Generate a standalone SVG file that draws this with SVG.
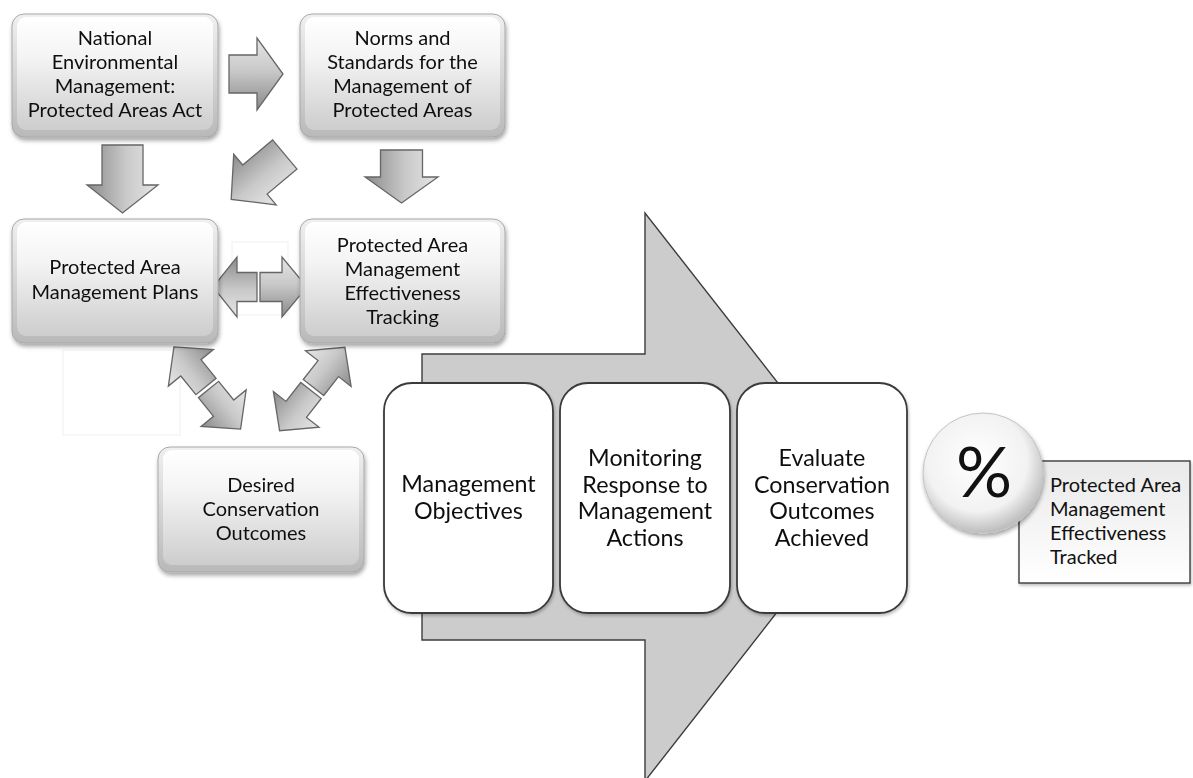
<svg xmlns="http://www.w3.org/2000/svg" width="1193" height="778" viewBox="0 0 1193 778">
<defs>
<style>
.t{font-family:Lato,"Liberation Sans",sans-serif;fill:#111111;text-anchor:middle}
.s{font-size:20px}
.b{font-size:23.3px}
.gl{stroke:#a8a8a8;stroke-width:1}
.big{fill:#ffffff;stroke:#3a3a3a;stroke-width:1.8}
.arw{fill:url(#gArrow);stroke:#666666;stroke-width:1.3;stroke-linejoin:miter}
.faint{fill:#ffffff;stroke:#f0f0f0;stroke-width:1}
</style>
<linearGradient id="gEdge" x1="0" y1="0" x2="0" y2="1">
<stop offset="0" stop-color="#f0f0f0"/>
<stop offset="1" stop-color="#b9b9b9"/>
</linearGradient>
<linearGradient id="gInner" x1="0" y1="0" x2="0" y2="1">
<stop offset="0" stop-color="#ffffff"/>
<stop offset="0.35" stop-color="#f4f4f4"/>
<stop offset="1" stop-color="#cdcdcd"/>
</linearGradient>
<linearGradient id="gArrow" x1="0" y1="0" x2="0" y2="1">
<stop offset="0" stop-color="#e6e6e6"/>
<stop offset="0.45" stop-color="#c9c9c9"/>
<stop offset="1" stop-color="#8a8a8a"/>
</linearGradient>
<linearGradient id="gNote" x1="0" y1="0" x2="0" y2="1">
<stop offset="0" stop-color="#e9e9e9"/>
<stop offset="1" stop-color="#ffffff"/>
</linearGradient>
<radialGradient id="gCircle" cx="0.45" cy="0.4" r="0.6">
<stop offset="0" stop-color="#ffffff"/>
<stop offset="0.7" stop-color="#f2f2f2"/>
<stop offset="1" stop-color="#bdbdbd"/>
</radialGradient>
<filter id="sh" x="-10%" y="-10%" width="125%" height="130%">
<feDropShadow dx="1" dy="3" stdDeviation="2" flood-color="#000" flood-opacity="0.35"/>
</filter>
<filter id="sh2" x="-10%" y="-10%" width="125%" height="130%">
<feDropShadow dx="1" dy="2" stdDeviation="1.5" flood-color="#000" flood-opacity="0.25"/>
</filter>
</defs>
<rect width="1193" height="778" fill="#ffffff"/>

<rect class="faint" x="63" y="350" width="117" height="85"/>
<rect class="faint" x="232" y="242" width="56" height="73"/>

<g id="big-arrow">
<polygon points="422,354 645,354 645,213 867,497 645,781 645,640 422,640" fill="#cccccc" stroke="#3c3c3c" stroke-width="1.4"/>
</g>

<g id="connectors">
<polygon class="arw" transform="translate(229,74)" points="0,-19 28,-19 28,-36 54,0 28,36 28,19 0,19"/>
<polygon class="arw" transform="translate(122.5,145) rotate(90)" points="0,-20.5 40,-20.5 40,-35.5 68,0 40,35.5 40,20.5 0,20.5"/>
<polygon class="arw" transform="translate(401.5,150) rotate(90)" points="0,-21 27,-21 27,-36.5 53,0 27,36.5 27,21 0,21"/>
<polygon class="arw" transform="translate(258,177) rotate(140)" points="-35,-19 4,-19 4,-33 35,0 4,33 4,19 -35,19"/>
<polygon class="arw" transform="translate(257,287) rotate(180)" points="0,-14.5 20,-14.5 20,-30 44,0 20,30 20,14.5 0,14.5"/>
<polygon class="arw" transform="translate(260,287)" points="0,-14.5 22,-14.5 22,-30 47,0 22,30 22,14.5 0,14.5"/>
<polygon class="arw" transform="translate(208.5,389.5) rotate(51)" points="0,-13 24,-13 24,-29 51,0 24,29 24,13 0,13"/>
<polygon class="arw" transform="translate(206,386.5) rotate(231)" points="0,-13 24,-13 24,-29 51,0 24,29 24,13 0,13"/>
<polygon class="arw" transform="translate(313.5,387.5) rotate(-52)" points="0,-13 24,-13 24,-29 51,0 24,29 24,13 0,13"/>
<polygon class="arw" transform="translate(311,390.5) rotate(128)" points="0,-13 24,-13 24,-29 51,0 24,29 24,13 0,13"/>
</g>

<g id="node-nema" filter="url(#sh)">
<rect class="gl" x="12" y="14" width="206" height="123" rx="12" fill="url(#gEdge)"/>
<rect x="17" y="17" width="196" height="113" rx="9" fill="url(#gInner)"/>
<text class="t s"><tspan x="115" y="45">National</tspan><tspan x="115" y="69">Environmental</tspan><tspan x="115" y="93">Management:</tspan><tspan x="115" y="117">Protected Areas Act</tspan></text>
</g>

<g id="node-norms" filter="url(#sh)">
<rect class="gl" x="300" y="14" width="205" height="123" rx="12" fill="url(#gEdge)"/>
<rect x="305" y="17" width="195" height="113" rx="9" fill="url(#gInner)"/>
<text class="t s"><tspan x="402.5" y="45">Norms and</tspan><tspan x="402.5" y="69">Standards for the</tspan><tspan x="402.5" y="93">Management of</tspan><tspan x="402.5" y="117">Protected Areas</tspan></text>
</g>

<g id="node-plans" filter="url(#sh)">
<rect class="gl" x="12" y="219" width="206" height="124" rx="12" fill="url(#gEdge)"/>
<rect x="17" y="222" width="196" height="114" rx="9" fill="url(#gInner)"/>
<text class="t s"><tspan x="115" y="274">Protected Area</tspan><tspan x="115" y="299">Management Plans</tspan></text>
</g>

<g id="node-tracking" filter="url(#sh)">
<rect class="gl" x="300" y="219" width="205" height="124" rx="12" fill="url(#gEdge)"/>
<rect x="305" y="222" width="195" height="114" rx="9" fill="url(#gInner)"/>
<text class="t s"><tspan x="402.5" y="252">Protected Area</tspan><tspan x="402.5" y="276">Management</tspan><tspan x="402.5" y="300">Effectiveness</tspan><tspan x="402.5" y="324">Tracking</tspan></text>
</g>

<g id="node-desired" filter="url(#sh)">
<rect class="gl" x="158" y="447" width="206" height="125" rx="12" fill="url(#gEdge)"/>
<rect x="163" y="450" width="196" height="115" rx="9" fill="url(#gInner)"/>
<text class="t s"><tspan x="261" y="492">Desired</tspan><tspan x="261" y="516">Conservation</tspan><tspan x="261" y="540">Outcomes</tspan></text>
</g>

<g id="node-objectives" filter="url(#sh2)">
<rect class="big" x="384" y="383" width="169" height="230" rx="28"/>
<text class="t b"><tspan x="468.5" y="492">Management</tspan><tspan x="468.5" y="518.5">Objectives</tspan></text>
</g>

<g id="node-monitoring" filter="url(#sh2)">
<rect class="big" x="560" y="383" width="170" height="230" rx="28"/>
<text class="t b"><tspan x="645" y="466">Monitoring</tspan><tspan x="645" y="492.5">Response to</tspan><tspan x="645" y="519">Management</tspan><tspan x="645" y="545.5">Actions</tspan></text>
</g>

<g id="node-evaluate" filter="url(#sh2)">
<rect class="big" x="737" y="383" width="170" height="230" rx="28"/>
<text class="t b"><tspan x="822" y="466">Evaluate</tspan><tspan x="822" y="492.5">Conservation</tspan><tspan x="822" y="519">Outcomes</tspan><tspan x="822" y="545.5">Achieved</tspan></text>
</g>

<g id="node-tracked">
<rect x="1019" y="461" width="171" height="122" fill="url(#gNote)" stroke="#3c3c3c" stroke-width="1.4" filter="url(#sh2)"/>
<text class="t s" style="text-anchor:start"><tspan x="1050" y="492">Protected Area</tspan><tspan x="1050" y="516">Management</tspan><tspan x="1050" y="540">Effectiveness</tspan><tspan x="1050" y="564">Tracked</tspan></text>
</g>

<g id="node-percent">
<circle cx="983" cy="473" r="60" fill="url(#gCircle)" stroke="#c4c4c4" stroke-width="1" filter="url(#sh)"/>
<text class="t" x="984" y="497" style="font-size:70px">%</text>
</g>
</svg>
